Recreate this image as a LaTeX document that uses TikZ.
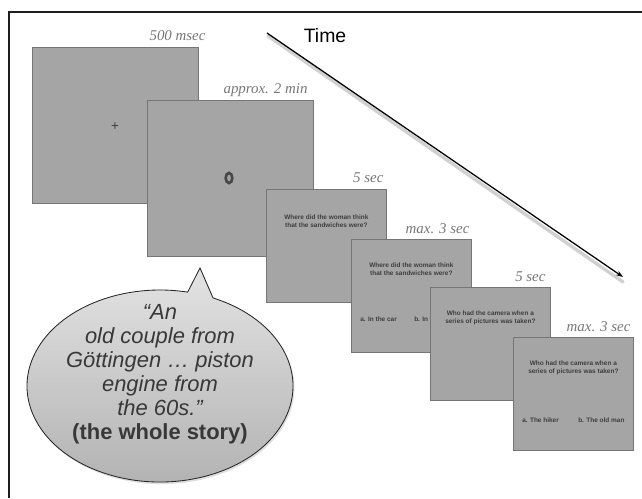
\documentclass[tikz,border=0pt]{standalone}
\usepackage{fontspec}
\setmainfont{Liberation Serif}
\setsansfont{Liberation Sans}
\usetikzlibrary{arrows.meta,positioning,calc,shadows}
\definecolor{panelGray} {RGB}{165,165,165}
\definecolor{panelEdge} {RGB}{118,118,118}
\definecolor{labelGray} {RGB}{118,118,118}
\definecolor{textDark}  {RGB}{62, 62, 62}
\definecolor{frameBlack}{RGB}{30, 30, 30}

\begin{document}
\begin{tikzpicture}[x=0.025cm,y=-0.025cm,
    bigpanel/.style={draw=panelEdge,fill=panelGray,line width=0.5pt,
                     anchor=north west,inner sep=0pt,
                     minimum width=4.15cm,minimum height=3.9cm},
    smallpanel/.style={bigpanel,minimum width=3.0cm,minimum height=2.83cm},
    dur/.style={font=\rmfamily\itshape\fontsize{10.6}{12}\selectfont,
                labelGray,anchor=base east,inner sep=0pt},
    qtext/.style={font=\sffamily\bfseries\fontsize{4.6}{5.7}\selectfont,textDark,
                  align=center,inner sep=0pt},
    atext/.style={font=\sffamily\bfseries\fontsize{4.6}{6}\selectfont,textDark,
                  anchor=west,inner sep=0pt},
    bubble/.style={draw=black!85,line width=0.6pt,top color=black!11,
                   bottom color=black!31,
                   drop shadow={opacity=.25,shadow xshift=1pt,shadow yshift=-1.5pt}}]

    \useasboundingbox (0,0) rectangle (642,498);

    % ════════ moldura ════════
    \draw[frameBlack,line width=1.4pt] (9,498) -- (9,12) -- (642,12);

    % ════════ eixo do tempo ════════
    \coordinate (tstart) at (267,33);
    \coordinate (tend)   at (623,277);
    \draw[black!30,line width=2.4pt,opacity=.6,line cap=round]
      ($(tstart)+(1,3)$) -- ($(tend)+(0,5)$);
    \draw[-{Stealth[length=5pt,width=3.5pt]},line width=0.9pt] (tstart) -- (tend);
    \node[font=\sffamily\fontsize{13.8}{15}\selectfont] (time) at (325,36) {Time};

    % ════════ telas grandes ════════
    \foreach \name/\x/\y in {p1/32/47, p2/147/100}{
      \node[bigpanel] (\name) at (\x,\y) {};
    }
    % cruz de fixacao
    \node[font=\sffamily\fontsize{9.5}{9.5}\selectfont,black!75] (fix) at (115,127) {+};
    % alvo
    \draw[black!72,line width=1.9pt] (229,178) ellipse[x radius=3.3, y radius=5.1];

    % ════════ telas das perguntas ════════
    \node[smallpanel] (p3) at (266,189) {};
    \node[qtext] (q3) at ($(p3.north)+(0,32)$)
      {Where did the woman think\\that the sandwiches were?};

    \node[smallpanel] (p4) at (351,239) {};
    \node[qtext] (q4) at ($(p4.north)+(0,30.5)$)
      {Where did the woman think\\that the sandwiches were?};
    \node[atext] (a4) at ($(p4.north west)+(9,80)$) {a. In the car};
    \node[atext] (b4) at ($(p4.north west)+(63,80)$) {b. In the};

    \node[smallpanel] (p5) at (430,287) {};
    \node[qtext] (q5) at ($(p5.north)+(0,31)$)
      {Who had the camera when a\\series of pictures was taken?};

    \node[smallpanel] (p6) at (513,337) {};
    \node[qtext] (q6) at ($(p6.north)+(0,31)$)
      {Who had the camera when a\\series of pictures was taken?};
    \node[atext] (a6) at ($(p6.north west)+(9,83)$) {a. The hiker};
    \node[atext] (b6) at ($(p6.north west)+(65,83)$) {b. The old man};

    % duracoes
    \foreach \p/\t/\dx in {p1/500 msec/7, p2/approx. 2 min/-6, p3/5 sec/-3,
                           p4/max. 3 sec/-2, p5/5 sec/-5, p6/max. 3 sec/-3}{
      \node[dur] (d\p) at ($(\p.north east)+(\dx,-6)$) {\t};
    }

    % ════════ balao ════════
    \coordinate (bc)  at (160,386);
    \coordinate (tip) at (200,268);
    \path[bubble] (tip) -- ($(bc)+({133*cos(-66.5)},{96*sin(-66.5)})$)
      arc[start angle=-66.5, end angle=282, x radius=133, y radius=96] -- cycle;
    \node[font=\sffamily\itshape\fontsize{15.6}{17}\selectfont,black!78,
          align=center] (quote) at (160,374)
      {“An\\old couple from\\Göttingen … piston\\engine from\\the 60s.”\\
       \upshape\bfseries (the whole story)};

\end{tikzpicture}
\end{document}
